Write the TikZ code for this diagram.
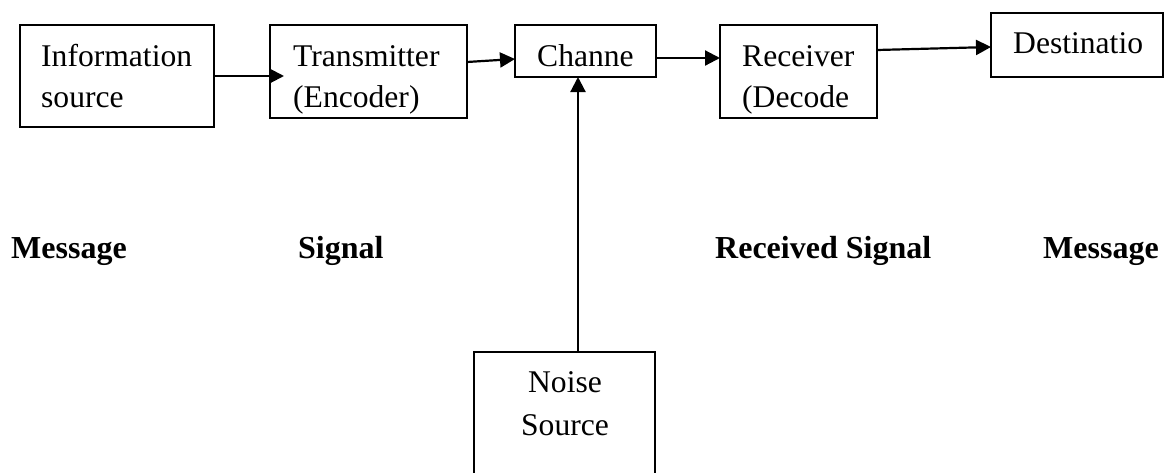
\documentclass[tikz,border=0pt]{standalone}
\usepackage{fontspec}
\setmainfont{Liberation Serif}
\usetikzlibrary{arrows.meta}
\begin{document}
\begin{tikzpicture}[x=1pt,y=-1pt,
  blockbox/.style={draw,line width=1.7pt,inner sep=0pt,outer sep=0pt},
  txt/.style={font=\fontsize{31.6}{38}\selectfont,inner sep=0pt,anchor=base west},
  ctxt/.style={font=\fontsize{31.6}{38}\selectfont,inner sep=0pt,anchor=base},
  lbl/.style={font=\fontsize{32}{38}\selectfont\bfseries,inner sep=0pt,anchor=base west},
  flow/.style={-{Triangle[length=15pt,width=15pt]},line width=2.2pt}]
\clip (0,0) rectangle (1165,472);

% blocks
\node[blockbox,minimum width=194pt,minimum height=102pt] (info) at (117,76) {};
\node[blockbox,minimum width=197pt,minimum height=93pt] (trans) at (368.5,71.5) {};
\node[blockbox,minimum width=141pt,minimum height=52pt] (chan) at (585.5,51) {};
\node[blockbox,minimum width=157pt,minimum height=93pt] (recv) at (798.5,71.5) {};
\node[blockbox,minimum width=172pt,minimum height=64pt] (dest) at (1077,45) {};
\node[blockbox,minimum width=181pt,minimum height=138pt] (noise) at (564.5,421) {};

% block texts
\node[txt] (infoA) at (41,66) {Information};
\node[txt] (infoB) at (41,107) {source};
\node[txt] (transA) at (293,66) {Transmitter};
\node[txt] (transB) at (293,107) {(Encoder)};
\node[txt] (chanA) at (537,66) {Channe};
\node[txt] (recvA) at (742,66) {Receiver};
\node[txt] (recvB) at (742,107) {(Decode};
\node[txt] (destA) at (1013,53) {Destinatio};
\node[ctxt] (noiseA) at (565,392) {Noise};
\node[ctxt] (noiseB) at (565,435) {Source};

% signal labels
\node[lbl] (msgIn) at (11,258) {Message};
\node[lbl] (sig) at (298,258) {Signal};
\node[lbl] (rsig) at (715,258) {Received Signal};
\node[lbl] (msgOut) at (1043,258) {Message};

% connectors
\draw[flow,shorten >=-14pt] (info.east) -- (info.east -| trans.west);
\draw[flow] ([yshift=-37pt]trans.north east) -- ([yshift=-34pt]chan.north west);
\draw[flow] ([yshift=-33pt]chan.north east) -- ([yshift=-33pt]recv.north west);
\draw[flow] ([yshift=-25pt]recv.north east) -- ([yshift=-34pt]dest.north west);
\draw[flow] ([xshift=13.5pt]noise.north) -- ([xshift=13.5pt]noise.north |- chan.south);
\end{tikzpicture}
\end{document}
